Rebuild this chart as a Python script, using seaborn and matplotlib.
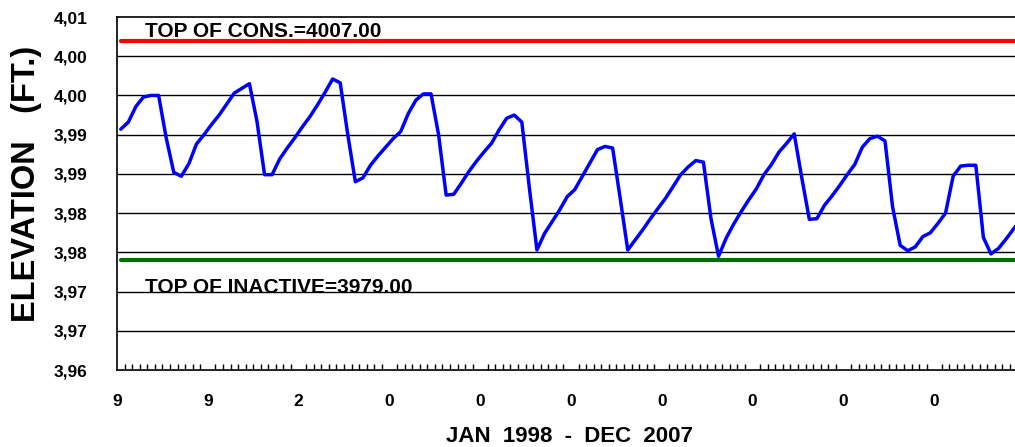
import numpy as np
import pandas as pd
import matplotlib
matplotlib.use('Agg')
import matplotlib.pyplot as plt
import seaborn as sns

# 월별 저수위 (JAN 1998 - DEC 2007)
elev = [3995.7, 3996.6, 3998.6, 3999.8, 4000.0, 4000.0, 3994.6, 3990.2, 3989.7, 3991.3, 3993.8, 3995.0,
        3996.3, 3997.5, 3998.9, 4000.3, 4000.9, 4001.5, 3996.7, 3989.9, 3989.9, 3991.9, 3993.3, 3994.6,
        3996.0, 3997.3, 3998.8, 4000.4, 4002.1, 4001.6, 3995.0, 3989.0, 3989.5, 3991.1, 3992.3, 3993.4,
        3994.5, 3995.4, 3997.7, 3999.4, 4000.2, 4000.2, 3995.0, 3987.3, 3987.4, 3988.8, 3990.3, 3991.6,
        3992.8, 3993.9, 3995.6, 3997.1, 3997.5, 3996.6, 3988.2, 3980.3, 3982.4, 3983.9, 3985.4, 3987.1,
        3988.0, 3989.7, 3991.4, 3993.1, 3993.5, 3993.3, 3986.9, 3980.3, 3981.6, 3982.9, 3984.3, 3985.6,
        3986.9, 3988.4, 3989.9, 3990.9, 3991.7, 3991.5, 3984.3, 3979.5, 3981.8, 3983.6, 3985.2, 3986.7,
        3988.1, 3989.9, 3991.2, 3992.8, 3993.9, 3995.1, 3989.5, 3984.2, 3984.3, 3986.0, 3987.2, 3988.5,
        3989.9, 3991.2, 3993.4, 3994.5, 3994.8, 3994.2, 3985.8, 3980.9, 3980.2, 3980.7, 3982.0, 3982.5,
        3983.7, 3985.0, 3989.7, 3991.0, 3991.1, 3991.1, 3981.9, 3979.8, 3980.5, 3981.7, 3983.0, 3984.2]
months = np.arange(len(elev)) + 0.5

top_cons = 4007.0
top_inactive = 3979.0

y_ticks = [3965, 3970, 3975, 3980, 3985, 3990, 3995, 4000, 4005, 4010]
y_labels = ['3,96', '3,97', '3,97', '3,98', '3,98', '3,99', '3,99', '4,00', '4,00', '4,01']
x_labels = ['9', '9', '2', '0', '0', '0', '0', '0', '0', '0']

df = pd.DataFrame({'month': months, 'elev': elev})

sns.set_style('white')
plt.rcParams['font.family'] = ['Liberation Sans', 'DejaVu Sans']
plt.rcParams['font.weight'] = 'bold'
plt.rcParams['text.color'] = 'black'
plt.rcParams['xtick.color'] = 'black'
plt.rcParams['ytick.color'] = 'black'

fig = plt.figure(figsize=(10.15, 4.47), dpi=100)
ax = fig.add_axes([117/1015, 77/447, 908/1015, 353/447])

# 격자선
for v in y_ticks[1:-1]:
    ax.axhline(v, color='black', lw=1.0, zorder=1)

ax.plot([months[0], 120], [top_cons, top_cons], color='#ff0000', lw=3, zorder=2)
ax.plot([months[0], 120], [top_inactive, top_inactive], color='#007000', lw=3, zorder=2)

sns.lineplot(data=df, x='month', y='elev', color='#0000ff', lw=2.5, ax=ax, zorder=3)

ax.text(3.7, 4007.5, 'TOP OF CONS.=4007.00', fontsize=15, fontweight='bold', va='baseline')
ax.text(3.7, 3974.8, 'TOP OF INACTIVE=3979.00', fontsize=15, fontweight='bold', va='baseline')

ax.set_xlim(0, 120)
ax.set_ylim(3965, 4010)
ax.set_yticks(y_ticks)
ax.set_yticklabels(y_labels, fontsize=12.5, fontweight='bold')
ax.set_xticks(np.arange(0, 120, 12))
ax.set_xticklabels(x_labels, fontsize=12.5, fontweight='bold')
ax.set_xticks(np.arange(0, 121, 1), minor=True)
ax.tick_params(axis='x', which='major', length=0, pad=17)
ax.tick_params(axis='x', which='minor', direction='in', length=4, width=1, bottom=True)
ax.tick_params(axis='y', length=0, pad=21)
ax.set_xlabel('')
ax.set_ylabel('')

for s in ax.spines.values():
    s.set_color('black')
    s.set_linewidth(1.2)

fig.text(27/1015, 1 - 184/447, 'ELEVATION   (FT.)', rotation=90, ha='center', va='center',
         fontsize=23.5, fontweight='bold')
fig.text(569/1015, 1 - 437/447, 'JAN  1998  -  DEC  2007', ha='center', va='center',
         fontsize=16, fontweight='bold')

fig.savefig('out.png', dpi=100)
